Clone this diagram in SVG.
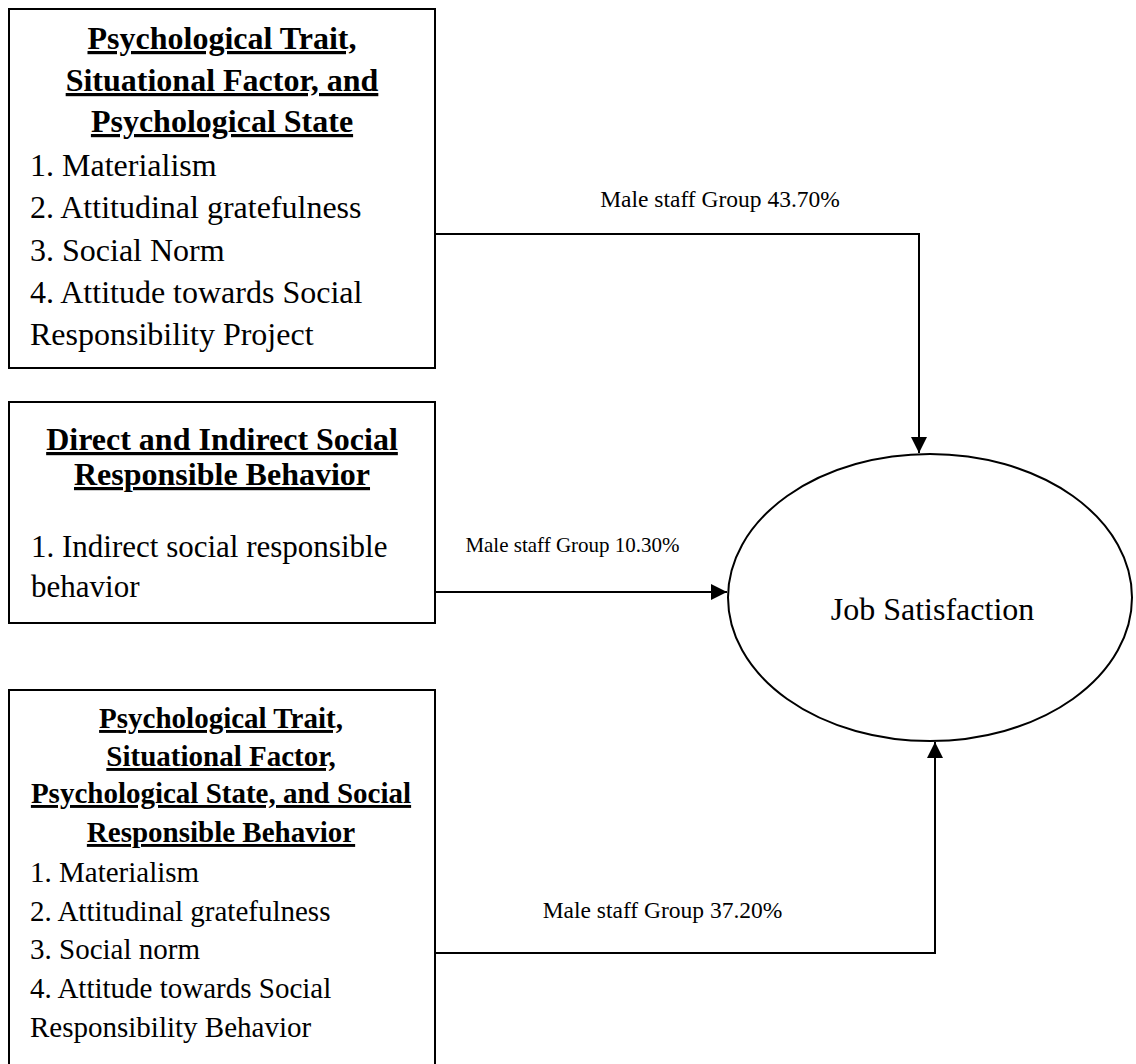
<svg xmlns="http://www.w3.org/2000/svg" width="1136" height="1064" viewBox="0 0 1136 1064">
<style>
.box{fill:#fff;stroke:#000;stroke-width:2}
.t{font-family:"Liberation Serif","Times New Roman",serif;fill:#000}
.h{font-weight:bold;text-decoration:underline;text-anchor:middle}
.s32{font-size:32px}
.s29{font-size:29px}
.lbl{font-family:"Liberation Serif","Times New Roman",serif;fill:#000;text-anchor:middle}
.conn{fill:none;stroke:#000;stroke-width:2}
</style>
<defs>
<marker id="arr" markerUnits="userSpaceOnUse" markerWidth="16" markerHeight="16" viewBox="0 0 15 15" refX="15" refY="7.5" orient="auto">
<path d="M0,0 L15,7.5 L0,15 Z" fill="#000"/>
</marker>
</defs>
<rect width="1136" height="1064" fill="#fff"/>
<g id="connectors">
<path class="conn" d="M435,234 H919 V453" marker-end="url(#arr)"/>
<path class="conn" d="M435,592 H727" marker-end="url(#arr)"/>
<path class="conn" d="M435,953 H935 V742" marker-end="url(#arr)"/>
<text class="lbl" x="720" y="207" font-size="23.5">Male staff Group 43.70%</text>
<text class="lbl" x="572.5" y="552" font-size="21">Male staff Group 10.30%</text>
<text class="lbl" x="662.5" y="918" font-size="23.5">Male staff Group 37.20%</text>
</g>
<g id="box1">
<rect class="box" x="9" y="9" width="426" height="359"/>
<text class="t h s32" x="222" y="49">Psychological Trait,</text>
<text class="t h s32" x="222" y="91">Situational Factor, and</text>
<text class="t h s32" x="222" y="132">Psychological State</text>
<text class="t s32" x="30" y="176">1. Materialism</text>
<text class="t s32" x="30" y="218">2. Attitudinal gratefulness</text>
<text class="t s32" x="30" y="261">3. Social Norm</text>
<text class="t s32" x="30" y="303">4. Attitude towards Social</text>
<text class="t s32" x="30" y="345">Responsibility Project</text>
</g>
<g id="box2">
<rect class="box" x="9" y="402" width="426" height="221"/>
<text class="t h s32" x="222" y="450">Direct and Indirect Social</text>
<text class="t h s32" x="222" y="485">Responsible Behavior</text>
<text class="t" x="31" y="557" font-size="31">1. Indirect social responsible</text>
<text class="t" x="31" y="597" font-size="31">behavior</text>
</g>
<g id="box3">
<rect class="box" x="9" y="690" width="426" height="380"/>
<text class="t h s29" x="221" y="728">Psychological Trait,</text>
<text class="t h s29" x="221" y="766">Situational Factor,</text>
<text class="t h s29" x="221" y="803">Psychological State, and Social</text>
<text class="t h s29" x="221" y="842">Responsible Behavior</text>
<text class="t s29" x="30" y="882">1. Materialism</text>
<text class="t s29" x="30" y="921">2. Attitudinal gratefulness</text>
<text class="t s29" x="30" y="959">3. Social norm</text>
<text class="t s29" x="30" y="998">4. Attitude towards Social</text>
<text class="t s29" x="30" y="1037">Responsibility Behavior</text>
</g>
<g id="job-satisfaction">
<ellipse cx="930" cy="597.5" rx="202" ry="143.5" fill="#fff" stroke="#000" stroke-width="2"/>
<text class="t" x="932.5" y="620" font-size="32" text-anchor="middle">Job Satisfaction</text>
</g>
</svg>
